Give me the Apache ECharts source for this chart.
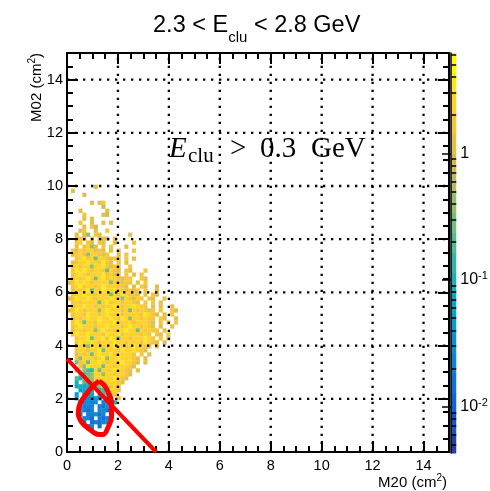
<!DOCTYPE html>
<html><head><meta charset="utf-8">
<script src="https://cdn.jsdelivr.net/npm/echarts@6/dist/echarts.min.js"></script>
<style>html,body{margin:0;padding:0;background:#fff}#c{width:490px;height:491px}</style>
</head><body><div id="c"></div>
<script>
// ---------------- data ----------------
const titleParts = ['2.3 < E', 'clu', ' < 2.8 GeV'];
const cutLabelParts = ['E', 'clu', '>', '0.3', 'GeV'];
const xTitleParts = ['M20 (cm', '2', ')'];
const yTitleParts = ['M02 (cm', '2', ')'];
const xTickValues = [0, 2, 4, 6, 8, 10, 12, 14];
const yTickValues = [0, 2, 4, 6, 8, 10, 12, 14];
const zMajorValues = [1, 0.1, 0.01];
const zMajorLabels = ['1', '10{s|-1}', '10{s|-2}'];
const zMin = 0.0043, zMax = 6.2;
const nBands = 20;
const binW = 0.15;
// histogram cells, colour level per cell ('.' = empty, '0'..'j' = band 0..19)
// first string = row 66 (y 9.90-10.05), then downwards
const rowTop = 66;
const levelChars = '0123456789abcdefghij';
const rows = [
".......f",
".f",
"....f",
"",
"......f.fg",
".........e",
"...f......f",
"....g....fe",
"....f.f",
"...g..f..f.f",
"....f.ge",
"...fg..f..g",
"..f.fc.gf.......f",
"..fgf.g.ffe.g",
"..gh.gf.gf..f....g",
"..f.ghcf.g.g...f",
".gfhghhfgf.f.g...g",
".fghgchhgfg..f.g",
"..ghighbhhgfgg.g.f",
".fghhihhgigf.g.f",
".ghghhchhigfgg..g",
".gihihghhgbhgf.gf...g",
".ghihghhhighfg.g.f.g",
".fhghihbhighhgfgg..gf",
"fgihihghhhhchgfgg.f.g",
".ghighhghihhhggf.f.gf..f",
".fhghibhgihhihgfgfg.g..f",
".ghhihhghhhbhgihggf.f.gf",
"fgihhihghhhihhchgfhg.gf..f",
".ghghhhhbhighhghhgf.g.g.f",
".fhhihhghghhihghhihgg.f.f..f",
"fgihghhhchihhhghbhghgfg.g..gf",
".ghhgihhghihhighhhhgihgf.f.g",
".fhghihhihhihgihchhghgg.gf..f",
".gihbhhgihhhighhhghhhgf.g.g.g",
".ghihhhghhihhhghihhghgf.f..f",
".fhhghhchihhghhihhbhghgg.f",
".gihhihhhgihhighhhhghg.gf.g",
"..ghhibhhigihchhghhhihg.g.f",
"..gihhihghhhihhghhhgihgf.f",
"..fhhcihghhhihhghihhgf.f",
"..ghhghhibhhhgihhihgf",
"..fhghbhihhighhhhg.g.f",
"..gchhhghichhihhhgf.f",
"..bghbhhihghhhihhgf.f",
"...gcihhhbhhghhhgf",
"..c.ca9hbhhhihhgf.f",
"...b9bchhchhghhgf",
"..a8cbchhhhhihgf",
"..8.a9bhbhhhhgf",
"..7878a9chhghg",
"...6778.8achhg",
"..6.567.79bhg",
"..7.45564.5a.g",
"...64545.4568",
"...5444.4356",
"...6434.4534",
"...5.44534.4",
"....543.4345",
"....4.34345",
".....45.3",
"......4"
];
const cutLineX = [0, 3.5];
const cutLineY = [3.5, 0];
const contourX = [1.26, 1.45, 1.60, 1.75, 1.75, 1.60, 1.42, 1.25, 0.88, 0.58, 0.44, 0.52, 0.75, 1.02, 1.26];
const contourY = [2.67, 2.52, 2.28, 1.85, 1.35, 0.90, 0.66, 0.66, 0.86, 1.12, 1.47, 1.84, 2.16, 2.48, 2.67];

// ---------------- helpers ----------------
const lzMin = Math.log10(zMin), lzMax = Math.log10(zMax);
const step = (lzMax - lzMin) / nBands;
const birdR = [0.2082,0.0592,0.0780,0.0232,0.1802,0.5301,0.8186,0.9956,0.9764];
const birdG = [0.1664,0.3599,0.5041,0.6419,0.7178,0.7492,0.7328,0.7862,0.9832];
const birdB = [0.5293,0.8684,0.8385,0.7914,0.6425,0.4662,0.3499,0.1968,0.0539];
function bird(f) {
  f = Math.max(0, Math.min(1, f));
  const s = f * 8, i = Math.min(7, Math.floor(s)), t = s - i;
  const c = a => Math.round(255 * (a[i] + (a[i + 1] - a[i]) * t));
  return 'rgb(' + c(birdR) + ',' + c(birdG) + ',' + c(birdB) + ')';
}
function bandColor(k) { return bird(Math.floor((k + 0.99) * 255 / nBands) / 254); }
function valueBand(v) {
  return Math.max(0, Math.min(nBands - 1, Math.floor((Math.log10(v) - lzMin) / step)));
}
const cells = [];
rows.forEach((row, i) => {
  const r = rowTop - i;
  for (let c = 0; c < row.length; c++) {
    const k = levelChars.indexOf(row[c]);
    if (k < 0) continue;
    cells.push([c * binW, r * binW, Math.pow(10, lzMin + (k + 0.5) * step)]);
  }
});
const bands = [];
for (let k = 0; k < nBands; k++) bands.push([lzMin + k * step, lzMin + (k + 1) * step, k]);
const zMinor = [];
for (let d = -3; d <= 0; d++) for (let m = 2; m <= 9; m++) {
  const v = Math.log10(m * Math.pow(10, d));
  if (v > lzMin && v < lzMax) zMinor.push(v);
}
const gridData = xTickValues.filter(v => v > 0).map(v => [v, 0])
  .concat(yTickValues.filter(v => v > 0).map(v => [v, 1]));

const mctx = document.createElement('canvas').getContext('2d');
function baseOff(font) { mctx.font = font; mctx.textBaseline = 'middle'; return mctx.measureText('H').actualBoundingBoxDescent; }
function textEl(text, font, x, baseline) {
  return { type: 'text', x: x, y: baseline - baseOff(font),
    style: { text: text, font: font, fill: '#000', align: 'left', verticalAlign: 'middle' } };
}
function textRun(parts, fonts, dys, anchorX, baseline, align) {
  const widths = parts.map((p, i) => { mctx.font = fonts[i]; return mctx.measureText(p).width; });
  const total = widths.reduce((a, b) => a + b, 0);
  let x = align === 'center' ? anchorX - total / 2 : align === 'right' ? anchorX - total : anchorX;
  const out = [];
  parts.forEach((p, i) => { out.push(textEl(p, fonts[i], x, baseline + dys[i])); x += widths[i]; });
  return out;
}
const SANS = 'Liberation Sans', SERIF = 'Liberation Serif';
const cutFonts = ['italic 29px ' + SERIF, '21px ' + SERIF, '29px ' + SERIF, '29px ' + SERIF, '29px ' + SERIF];
const cutX = [169, 188, 230, 260, 311];
const cutDy = [0, 5, 0, 0, 0];
const graphics = [].concat(
  textRun(titleParts, ['23.5px ' + SANS, '15px ' + SANS, '23.5px ' + SANS], [0, 10, 0], 256.7, 31.7, 'center'),
  cutLabelParts.map((p, i) => textEl(p, cutFonts[i], cutX[i], 157 + cutDy[i])),
  textRun(xTitleParts, ['15px ' + SANS, '10px ' + SANS, '15px ' + SANS], [0, -6, 0], 447, 487, 'right'),
  [{ type: 'group', x: 41, y: 53, rotation: Math.PI / 2,
     children: textRun(yTitleParts, ['15px ' + SANS, '10px ' + SANS, '15px ' + SANS], [0, -6, 0], 0, 0, 'right') }]
);

// ---------------- chart ----------------
const chart = echarts.init(document.getElementById('c'), null, { renderer: 'canvas' });
const black = '#000';
function mainAxis(pos, major, labels) {
  return {
    gridIndex: 0, type: 'value', min: 0, max: 15, interval: major ? 2 : 0.5, position: pos, zlevel: 1, z: 10,
    axisLine: { show: major, onZero: false, lineStyle: { color: black, width: 2 } },
    axisTick: { show: true, inside: true, length: major ? 11 : 6, lineStyle: { color: black, width: 2 } },
    axisLabel: { show: labels, color: black, fontSize: 14.5, fontFamily: SANS, margin: pos === 'bottom' ? 6 : 4,
      formatter: v => (xTickValues.indexOf(v) >= 0 ? String(v) : '') },
    splitLine: { show: false }
  };
}
const option = {
  animation: false,
  backgroundColor: '#fff',
  grid: [
    { left: 67, top: 53, width: 382, height: 399 },
    { left: 451, top: 53, width: 21, height: 400 }
  ],
  xAxis: [
    mainAxis('bottom', true, true),
    mainAxis('bottom', false, false),
    mainAxis('top', true, false),
    mainAxis('top', false, false),
    { gridIndex: 1, type: 'value', min: 0, max: 1, show: false }
  ],
  yAxis: [
    mainAxis('left', true, true),
    mainAxis('left', false, false),
    mainAxis('right', true, false),
    mainAxis('right', false, false),
    { gridIndex: 1, type: 'value', min: lzMin, max: lzMax, position: 'right', zlevel: 1, z: 10,
      axisLine: { show: true, lineStyle: { color: black, width: 1.5 } },
      axisTick: { show: true, inside: true, length: 9, customValues: zMajorValues.map(Math.log10), lineStyle: { color: black, width: 1.5 } },
      axisLabel: { show: true, customValues: zMajorValues.map(Math.log10), margin: 4, color: black, fontSize: 16, fontFamily: SANS,
        formatter: v => { const i = zMajorValues.findIndex(z => Math.abs(Math.log10(z) - v) < 1e-6); return i >= 0 ? zMajorLabels[i] : ''; },
        rich: { s: { fontSize: 11, fontFamily: SANS, color: black, verticalAlign: 'top', padding: [0, 0, 8, 0] } } },
      splitLine: { show: false } },
    { gridIndex: 1, type: 'value', min: lzMin, max: lzMax, position: 'right', zlevel: 1, z: 10,
      axisLine: { show: false },
      axisTick: { show: true, inside: true, length: 5, customValues: zMinor, lineStyle: { color: black, width: 1.5 } },
      axisLabel: { show: false }, splitLine: { show: false } }
  ],
  graphic: graphics,
  series: [
    { type: 'custom', xAxisIndex: 0, yAxisIndex: 0, zlevel: 0, z: 2, data: cells,
      renderItem: (params, api) => {
        const x0 = api.value(0), y0 = api.value(1);
        const p1 = api.coord([x0, y0 + binW]);
        const p2 = api.coord([x0 + binW, y0]);
        return { type: 'rect', shape: { x: p1[0], y: p1[1], width: p2[0] - p1[0] + 0.3, height: p2[1] - p1[1] + 0.3 },
          style: { fill: bandColor(valueBand(api.value(2))) } };
      } },
    { type: 'custom', xAxisIndex: 0, yAxisIndex: 0, zlevel: 1, z: 5, data: gridData, silent: true,
      renderItem: (params, api) => {
        const v = api.value(0), dir = api.value(1);
        const a = dir === 0 ? api.coord([v, 0]) : api.coord([0, v]);
        const b = dir === 0 ? api.coord([v, 15]) : api.coord([15, v]);
        return { type: 'line', shape: { x1: a[0], y1: a[1], x2: b[0], y2: b[1] },
          style: { stroke: black, lineWidth: 2.3, lineDash: [2.3, 5.7] } };
      } },
    { type: 'custom', xAxisIndex: 4, yAxisIndex: 4, zlevel: 0, z: 2, data: bands,
      renderItem: (params, api) => {
        const p1 = api.coord([0, api.value(1)]);
        const p2 = api.coord([1, api.value(0)]);
        return { type: 'rect', shape: { x: p1[0], y: p1[1], width: p2[0] - p1[0], height: p2[1] - p1[1] + 0.5 },
          style: { fill: bandColor(api.value(2)) } };
      } },
    { type: 'line', xAxisIndex: 0, yAxisIndex: 0, zlevel: 1, z: 20, symbol: 'none', clip: true,
      data: cutLineX.map((x, i) => [x, cutLineY[i]]),
      lineStyle: { color: '#ff0000', width: 4 } },
    { type: 'line', xAxisIndex: 0, yAxisIndex: 0, zlevel: 1, z: 20, symbol: 'none', smooth: 0.4,
      data: contourX.map((x, i) => [x, contourY[i]]),
      lineStyle: { color: '#ff0000', width: 5 } }
  ]
};
chart.setOption(option);
</script>
</body></html>
